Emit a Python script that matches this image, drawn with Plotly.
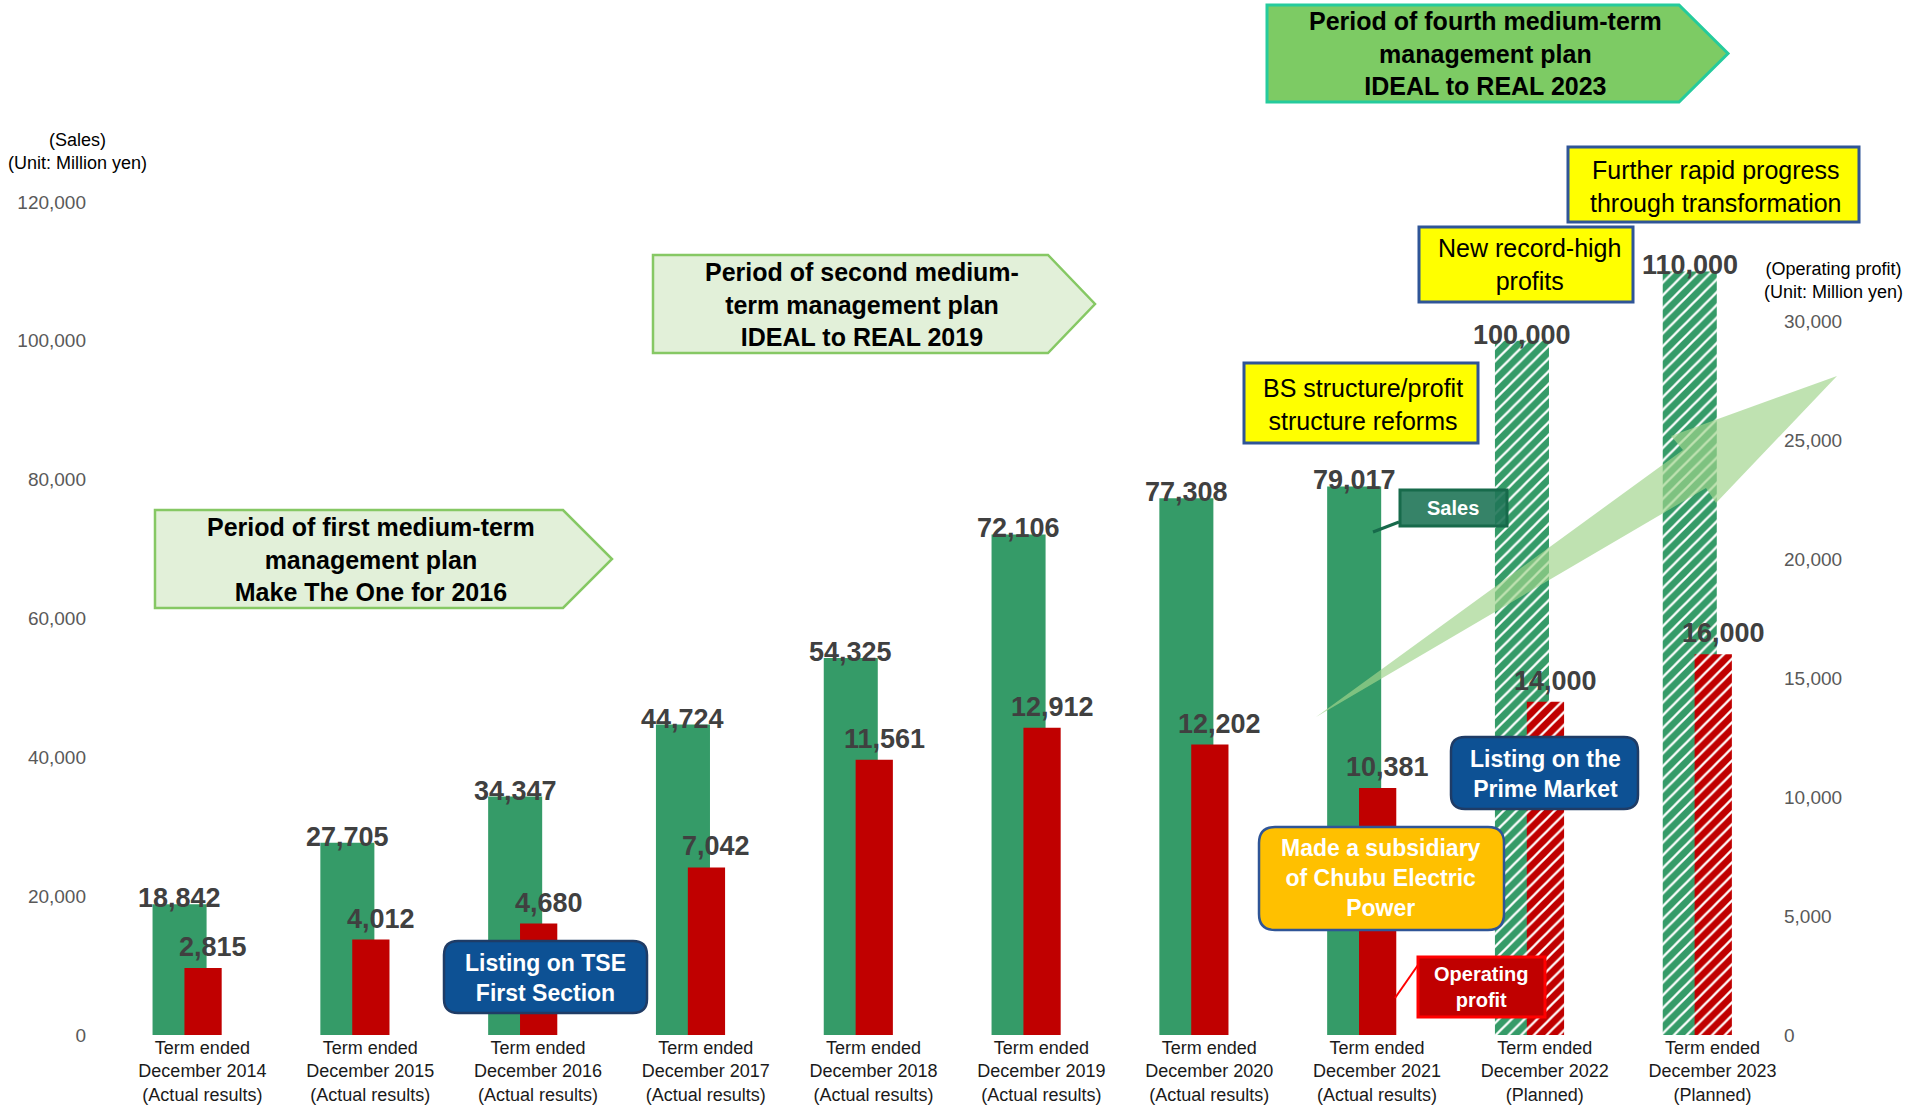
import plotly.graph_objects as go

# ---- data -------------------------------------------------------------
years = [2014, 2015, 2016, 2017, 2018, 2019, 2020, 2021, 2022, 2023]
status = ["Actual results"] * 8 + ["Planned"] * 2
sales = [18842, 27705, 34347, 44724, 54325, 72106, 77308, 79017, 100000, 110000]
op_profit = [2815, 4012, 4680, 7042, 11561, 12912, 12202, 10381, 14000, 16000]
sales_ticks = [0, 20000, 40000, 60000, 80000, 100000, 120000]
profit_ticks = [0, 5000, 10000, 15000, 20000, 25000, 30000]

categories = [f"Term ended<br>December {y}<br>({s})" for y, s in zip(years, status)]
n_actual = status.count("Actual results")

# ---- styling -----------------------------------------------------------
FONT = "Liberation Sans, Arial, sans-serif"
GREEN = "#359B68"
RED = "#C00000"
LABEL = "#404040"

W, H = 1907, 1106
PL, PR, PT, PB = 95, 1775, 202, 1035  # plot area in pixels

G_OFF, G_W = -0.297, 0.322   # sales bar offset / width (category units)
R_OFF, R_W = -0.107, 0.222   # operating-profit bar offset / width


def px(x):
    return (x - PL) / (PR - PL)


def py(y):
    return (PB - y) / (PB - PT)


def path_from(points):
    d = "M " + " L ".join(f"{px(x):.5f},{py(y):.5f}" for x, y in points)
    return d + " Z"


def pentagon(x0, xb, xt, y0, y1):
    ym = (y0 + y1) / 2
    return path_from([(x0, y0), (xb, y0), (xt, ym), (xb, y1), (x0, y1)])


def rounded(x0, y0, x1, y1, r):
    def p(x, y):
        return f"{px(x):.5f},{py(y):.5f}"
    return (f"M {p(x0 + r, y0)} L {p(x1 - r, y0)} Q {p(x1, y0)} {p(x1, y0 + r)} "
            f"L {p(x1, y1 - r)} Q {p(x1, y1)} {p(x1 - r, y1)} "
            f"L {p(x0 + r, y1)} Q {p(x0, y1)} {p(x0, y1 - r)} "
            f"L {p(x0, y0 + r)} Q {p(x0, y0)} {p(x0 + r, y0)} Z")


def note(cx, cy, text, font):
    return dict(x=px(cx), y=py(cy), xref="paper", yref="paper", text=text,
                showarrow=False, xanchor="center", yanchor="middle", font=font)


fig = go.Figure()

hatch = dict(shape="/", bgcolor="white", size=9, solidity=0.75, fgopacity=1)

# sales bars (solid for results, hatched for plans)
fig.add_trace(go.Bar(x=categories[:n_actual], y=sales[:n_actual], offset=G_OFF, width=G_W,
                     marker=dict(color=GREEN, line=dict(width=0)), name="Sales"))
fig.add_trace(go.Bar(x=categories[n_actual:], y=sales[n_actual:], offset=G_OFF, width=G_W,
                     marker=dict(color="white", line=dict(width=0),
                                 pattern=dict(hatch, fgcolor=GREEN)),
                     name="Sales (planned)"))
# operating profit bars on the secondary axis
fig.add_trace(go.Bar(x=categories[:n_actual], y=op_profit[:n_actual], offset=R_OFF, width=R_W,
                     yaxis="y2", marker=dict(color=RED, line=dict(width=0)),
                     name="Operating profit"))
fig.add_trace(go.Bar(x=categories[n_actual:], y=op_profit[n_actual:], offset=R_OFF, width=R_W,
                     yaxis="y2",
                     marker=dict(color="white", line=dict(width=0),
                                 pattern=dict(hatch, fgcolor=RED)),
                     name="Operating profit (planned)"))

annotations = []
# value labels
value_font = dict(family=FONT, size=27, color=LABEL, weight="bold")
for i, (s, p) in enumerate(zip(sales, op_profit)):
    annotations.append(dict(x=i + G_OFF + G_W / 2, y=s, xref="x", yref="y",
                            text=f"{s:,}", showarrow=False, xanchor="center",
                            yanchor="bottom", yshift=-11, font=value_font))
    annotations.append(dict(x=i + R_OFF + R_W / 2, y=p, xref="x", yref="y2",
                            text=f"{p:,}", showarrow=False, xanchor="center",
                            yanchor="bottom", yshift=4, xshift=10, font=value_font))

# axis titles
title_font = dict(family=FONT, size=18, color="black")
annotations.append(note(77, 152, "(Sales)<br>(Unit: Million yen)", title_font))
annotations.append(note(1833, 280, "(Operating profit)<br>(Unit: Million yen)", title_font))

shapes = []

# medium-term plan arrows
shapes.append(dict(type="path", xref="paper", yref="paper",
                   path=pentagon(155, 563, 612, 510, 608),
                   fillcolor="#E2F0D9", line=dict(color="#86C864", width=2.5)))
shapes.append(dict(type="path", xref="paper", yref="paper",
                   path=pentagon(653, 1048, 1095, 255, 353),
                   fillcolor="#E2F0D9", line=dict(color="#86C864", width=2.5)))
shapes.append(dict(type="path", xref="paper", yref="paper",
                   path=pentagon(1267, 1679, 1728, 5, 102),
                   fillcolor="#7DCB64", line=dict(color="#25CB9C", width=3)))

plan_font = dict(family=FONT, size=25, color="black", weight="bold")
annotations.append(note(371, 559, "Period of first medium-term<br>management plan<br>Make The One for 2016", plan_font))
annotations.append(note(862, 304, "Period of second medium-<br>term management plan<br>IDEAL to REAL 2019", plan_font))
annotations.append(note(1485, 54, "Period of fourth medium-term<br>management plan<br>IDEAL to REAL 2023", plan_font))

# growth arrow
shapes.append(dict(type="path", xref="paper", yref="paper",
                   path=path_from([(1316, 717), (1683, 450), (1671, 436), (1837, 376),
                                   (1716, 503), (1706, 488)]),
                   fillcolor="rgba(160,212,140,0.68)", line=dict(width=0)))

# yellow notes
yellow_font = dict(family=FONT, size=25, color="black")
for (x0, y0, x1, y1), (cx, cy), txt in [
        ((1244, 363, 1478, 443), (1363, 404), "BS structure/profit<br>structure reforms"),
        ((1419, 227, 1633, 302), (1529, 265), "New record-high<br>profits"),
        ((1568, 147, 1859, 222), (1716, 186), "Further rapid progress<br>through transformation")]:
    shapes.append(dict(type="rect", xref="paper", yref="paper",
                       x0=px(x0), x1=px(x1), y0=py(y1), y1=py(y0),
                       fillcolor="#FFFF00", line=dict(color="#2F5597", width=3)))
    annotations.append(note(cx, cy, txt, yellow_font))

# event call-outs
white_bold = dict(family=FONT, size=23, color="white", weight="bold")
shapes.append(dict(type="path", xref="paper", yref="paper",
                   path=rounded(444, 941, 647, 1013, 14),
                   fillcolor="#0D5194", line=dict(color="#1F3C66", width=2.5)))
annotations.append(note(545, 978, "Listing on TSE<br>First Section", white_bold))
shapes.append(dict(type="path", xref="paper", yref="paper",
                   path=rounded(1451, 737, 1638, 809, 14),
                   fillcolor="#0D5194", line=dict(color="#1F3C66", width=2.5)))
annotations.append(note(1545, 774, "Listing on the<br>Prime Market", white_bold))
shapes.append(dict(type="path", xref="paper", yref="paper",
                   path=rounded(1259, 827, 1504, 930, 16),
                   fillcolor="#FFC000", line=dict(color="#2F5597", width=2.5)))
annotations.append(note(1381, 878, "Made a subsidiary<br>of Chubu Electric<br>Power", white_bold))

# series call-outs
callout_font = dict(family=FONT, size=20, color="white", weight="bold")
shapes.append(dict(type="line", xref="paper", yref="paper",
                   x0=px(1399), y0=py(522), x1=px(1373), y1=py(532),
                   line=dict(color="#176A4B", width=3)))
shapes.append(dict(type="rect", xref="paper", yref="paper",
                   x0=px(1400), x1=px(1507), y0=py(526), y1=py(490),
                   fillcolor="rgba(32,118,88,0.9)", line=dict(color="#176A4B", width=3)))
annotations.append(note(1453, 508, "Sales", callout_font))
shapes.append(dict(type="line", xref="paper", yref="paper",
                   x0=px(1418), y0=py(965), x1=px(1395), y1=py(998),
                   line=dict(color="#FF0000", width=2)))
shapes.append(dict(type="rect", xref="paper", yref="paper",
                   x0=px(1418), x1=px(1545), y0=py(1017), y1=py(957),
                   fillcolor=RED, line=dict(color="#FF0000", width=3)))
annotations.append(note(1481, 987, "Operating<br>profit", callout_font))

tick_font = dict(family=FONT, size=19, color="#595959")
fig.update_layout(
    width=W, height=H, autosize=False,
    margin=dict(l=PL, r=W - PR, t=PT, b=H - PB, pad=0),
    paper_bgcolor="white", plot_bgcolor="white",
    barmode="overlay", showlegend=False,
    font=dict(family=FONT),
    xaxis=dict(type="category", range=[-0.640, 9.372], showgrid=False, zeroline=False,
               showline=False, ticks="", automargin=False,
               tickfont=dict(family=FONT, size=18, color="#1A1A1A")),
    yaxis=dict(range=[0, 120000], tickvals=sales_ticks, tickformat=",", showgrid=False,
               zeroline=False, showline=False, ticks="", automargin=False,
               ticklabelstandoff=8, tickfont=tick_font),
    yaxis2=dict(range=[0, 35000], tickvals=profit_ticks, tickformat=",", overlaying="y",
                side="right", showgrid=False, zeroline=False, showline=False, ticks="",
                automargin=False, ticklabelstandoff=8, tickfont=tick_font),
    shapes=shapes,
    annotations=annotations,
)

fig.write_html("out.html")
